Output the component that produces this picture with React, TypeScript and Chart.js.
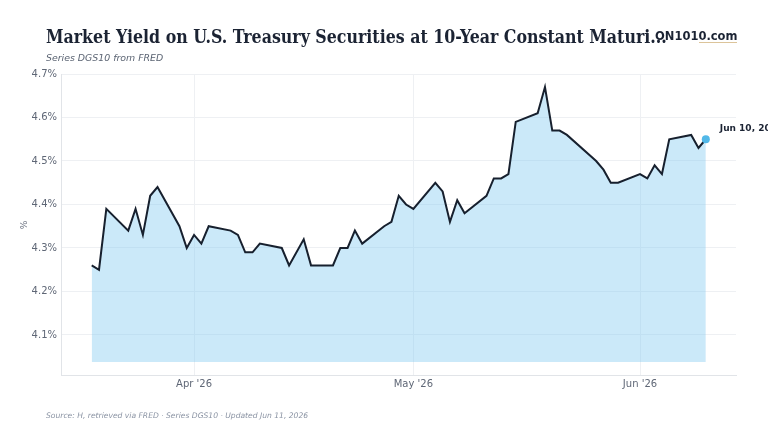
import React, { useEffect, useRef } from "react";
import { Chart, registerables } from "chart.js";

Chart.register(...registerables);

const dates = [
  "2026-03-18", "2026-03-19", "2026-03-20", "2026-03-23", "2026-03-24", "2026-03-25", "2026-03-26", "2026-03-27",
  "2026-03-30", "2026-03-31", "2026-04-01", "2026-04-02", "2026-04-03", "2026-04-06", "2026-04-07", "2026-04-08",
  "2026-04-09", "2026-04-10", "2026-04-13", "2026-04-14", "2026-04-16", "2026-04-17", "2026-04-20", "2026-04-21",
  "2026-04-22", "2026-04-23", "2026-04-24", "2026-04-27", "2026-04-28", "2026-04-29", "2026-04-30", "2026-05-01",
  "2026-05-04", "2026-05-05", "2026-05-06", "2026-05-07", "2026-05-08", "2026-05-11", "2026-05-12", "2026-05-13",
  "2026-05-14", "2026-05-15", "2026-05-18", "2026-05-19", "2026-05-20", "2026-05-21", "2026-05-22", "2026-05-26",
  "2026-05-27", "2026-05-28", "2026-05-29", "2026-06-01", "2026-06-02", "2026-06-03", "2026-06-04", "2026-06-05",
  "2026-06-08", "2026-06-09", "2026-06-10",
];

const yields = [
  4.26, 4.25, 4.39, 4.34, 4.39, 4.33, 4.42, 4.44,
  4.35, 4.30, 4.33, 4.31, 4.35, 4.34, 4.33, 4.29,
  4.29, 4.31, 4.30, 4.26, 4.32, 4.26, 4.26, 4.30,
  4.30, 4.34, 4.31, 4.35, 4.36, 4.42, 4.40, 4.39,
  4.45, 4.43, 4.36, 4.41, 4.38, 4.42, 4.46, 4.46,
  4.47, 4.59, 4.61, 4.67, 4.57, 4.57, 4.56, 4.50,
  4.48, 4.45, 4.45, 4.47, 4.46, 4.49, 4.47, 4.55,
  4.56, 4.53, 4.55,
];

const xTickDates = ["2026-04-01", "2026-05-01", "2026-06-01"];
const xTickLabels = ["Apr '26", "May '26", "Jun '26"];
const yTicks = [4.1, 4.2, 4.3, 4.4, 4.5, 4.6, 4.7];

const TITLE = "Market Yield on U.S. Treasury Securities at 10-Year Constant Maturi...";
const SUBTITLE = "Series DGS10 from FRED";
const FOOTER = "Source: H, retrieved via FRED · Series DGS10 · Updated Jun 11, 2026";
const LOGO = "ON1010.com";
const END_LABEL = "Jun 10, 2026: 4.55%";

const dayNum = (s: string) => {
  const [y, m, d] = s.split("-").map(Number);
  return Date.UTC(y, m - 1, d) / 86400000;
};

export default function App() {
  const ref = useRef<HTMLCanvasElement | null>(null);

  useEffect(() => {
    if (!ref.current) return;
    document.body.style.margin = "0";
    const pts = dates.map((d, i) => ({ x: dayNum(d), y: yields[i] }));
    const last = pts.length - 1;
    const tickVals = xTickDates.map(dayNum);

    const textPlugin = {
      id: "texts",
      afterDraw(chart: any) {
        const ctx = chart.ctx as CanvasRenderingContext2D;
        ctx.save();
        ctx.textBaseline = "alphabetic";
        ctx.textAlign = "left";
        ctx.fillStyle = "#1b2333";
        ctx.font = "bold 17.6px 'DejaVu Serif Condensed', 'DejaVu Serif'";
        ctx.fillText(TITLE, 46, 43);
        ctx.fillStyle = "#5b6473";
        ctx.font = "italic 9.4px 'DejaVu Sans'";
        ctx.fillText(SUBTITLE, 46, 61);
        ctx.fillStyle = "#1b2333";
        ctx.font = "bold 11.5px 'DejaVu Sans'";
        ctx.fillText(LOGO, 655, 40);
        ctx.strokeStyle = "#dcc49a";
        ctx.lineWidth = 1;
        ctx.beginPath();
        ctx.moveTo(699, 42.5);
        ctx.lineTo(737, 42.5);
        ctx.stroke();
        ctx.fillStyle = "#8a93a3";
        ctx.font = "italic 7.6px 'DejaVu Sans'";
        ctx.fillText(FOOTER, 46, 418);
        ctx.save();
        ctx.translate(27, 225);
        ctx.rotate(-Math.PI / 2);
        ctx.textAlign = "center";
        ctx.fillStyle = "#6b7280";
        ctx.font = "9px 'DejaVu Sans'";
        ctx.fillText("%", 0, 0);
        ctx.restore();
        const meta = chart.getDatasetMeta(0);
        const p = meta.data[last];
        ctx.fillStyle = "#1b2333";
        ctx.font = "bold 9px 'DejaVu Sans'";
        ctx.textBaseline = "middle";
        ctx.fillText(END_LABEL, p.x + 14, p.y - 11);
        ctx.restore();
      },
    };

    const chart = new Chart(ref.current, {
      type: "line",
      data: {
        datasets: [
          {
            data: pts,
            borderColor: "#17202e",
            borderWidth: 2,
            tension: 0,
            fill: { value: 4.038 },
            backgroundColor: "rgba(125, 200, 240, 0.4)",
            pointRadius: (c: any) => (c.dataIndex === last ? 4 : 0),
            pointHoverRadius: 0,
            pointBackgroundColor: "#52b8e8",
            pointBorderWidth: 0,
          },
        ],
      },
      options: {
        animation: false,
        responsive: false,
        events: [],
        layout: { padding: { left: 0, right: 32, top: 74, bottom: 0 } },
        plugins: { legend: { display: false }, tooltip: { enabled: false }, title: { display: false } },
        scales: {
          x: {
            type: "linear",
            z: 1,
            min: dayNum(dates[0]) - 4.2,
            max: dayNum(dates[last]) + 4.13,
            afterBuildTicks: (s: any) => {
              s.ticks = tickVals.map((v) => ({ value: v }));
            },
            afterFit: (s: any) => {
              s.height = 57;
            },
            grid: { color: "#eef0f3", drawTicks: false, lineWidth: 1 },
            border: { color: "#e1e4e8" },
            ticks: {
              padding: 3,
              color: "#5f6776",
              font: { family: "'DejaVu Sans'", size: 10 },
              maxRotation: 0,
              autoSkip: false,
              callback: (v: any) => {
                const i = tickVals.indexOf(Number(v));
                return i >= 0 ? xTickLabels[i] : "";
              },
            },
          },
          y: {
            z: 1,
            min: 4.008,
            max: 4.7,
            afterBuildTicks: (s: any) => {
              s.ticks = yTicks.map((v) => ({ value: v }));
            },
            afterFit: (s: any) => {
              s.width = 61;
            },
            grid: { color: "#eef0f3", drawTicks: false, lineWidth: 1 },
            border: { color: "#e1e4e8" },
            ticks: {
              padding: 4,
              color: "#5f6776",
              font: { family: "'DejaVu Sans'", size: 10 },
              callback: (v: any) => Number(v).toFixed(1) + "%",
            },
          },
        },
      },
      plugins: [textPlugin],
    });
    return () => chart.destroy();
  }, []);

  return (
    <div style={{ position: "fixed", left: 0, top: 0, width: 768, height: 432, background: "#fff" }}>
      <canvas ref={ref} width={768} height={432} style={{ width: 768, height: 432, display: "block" }} />
    </div>
  );
}
